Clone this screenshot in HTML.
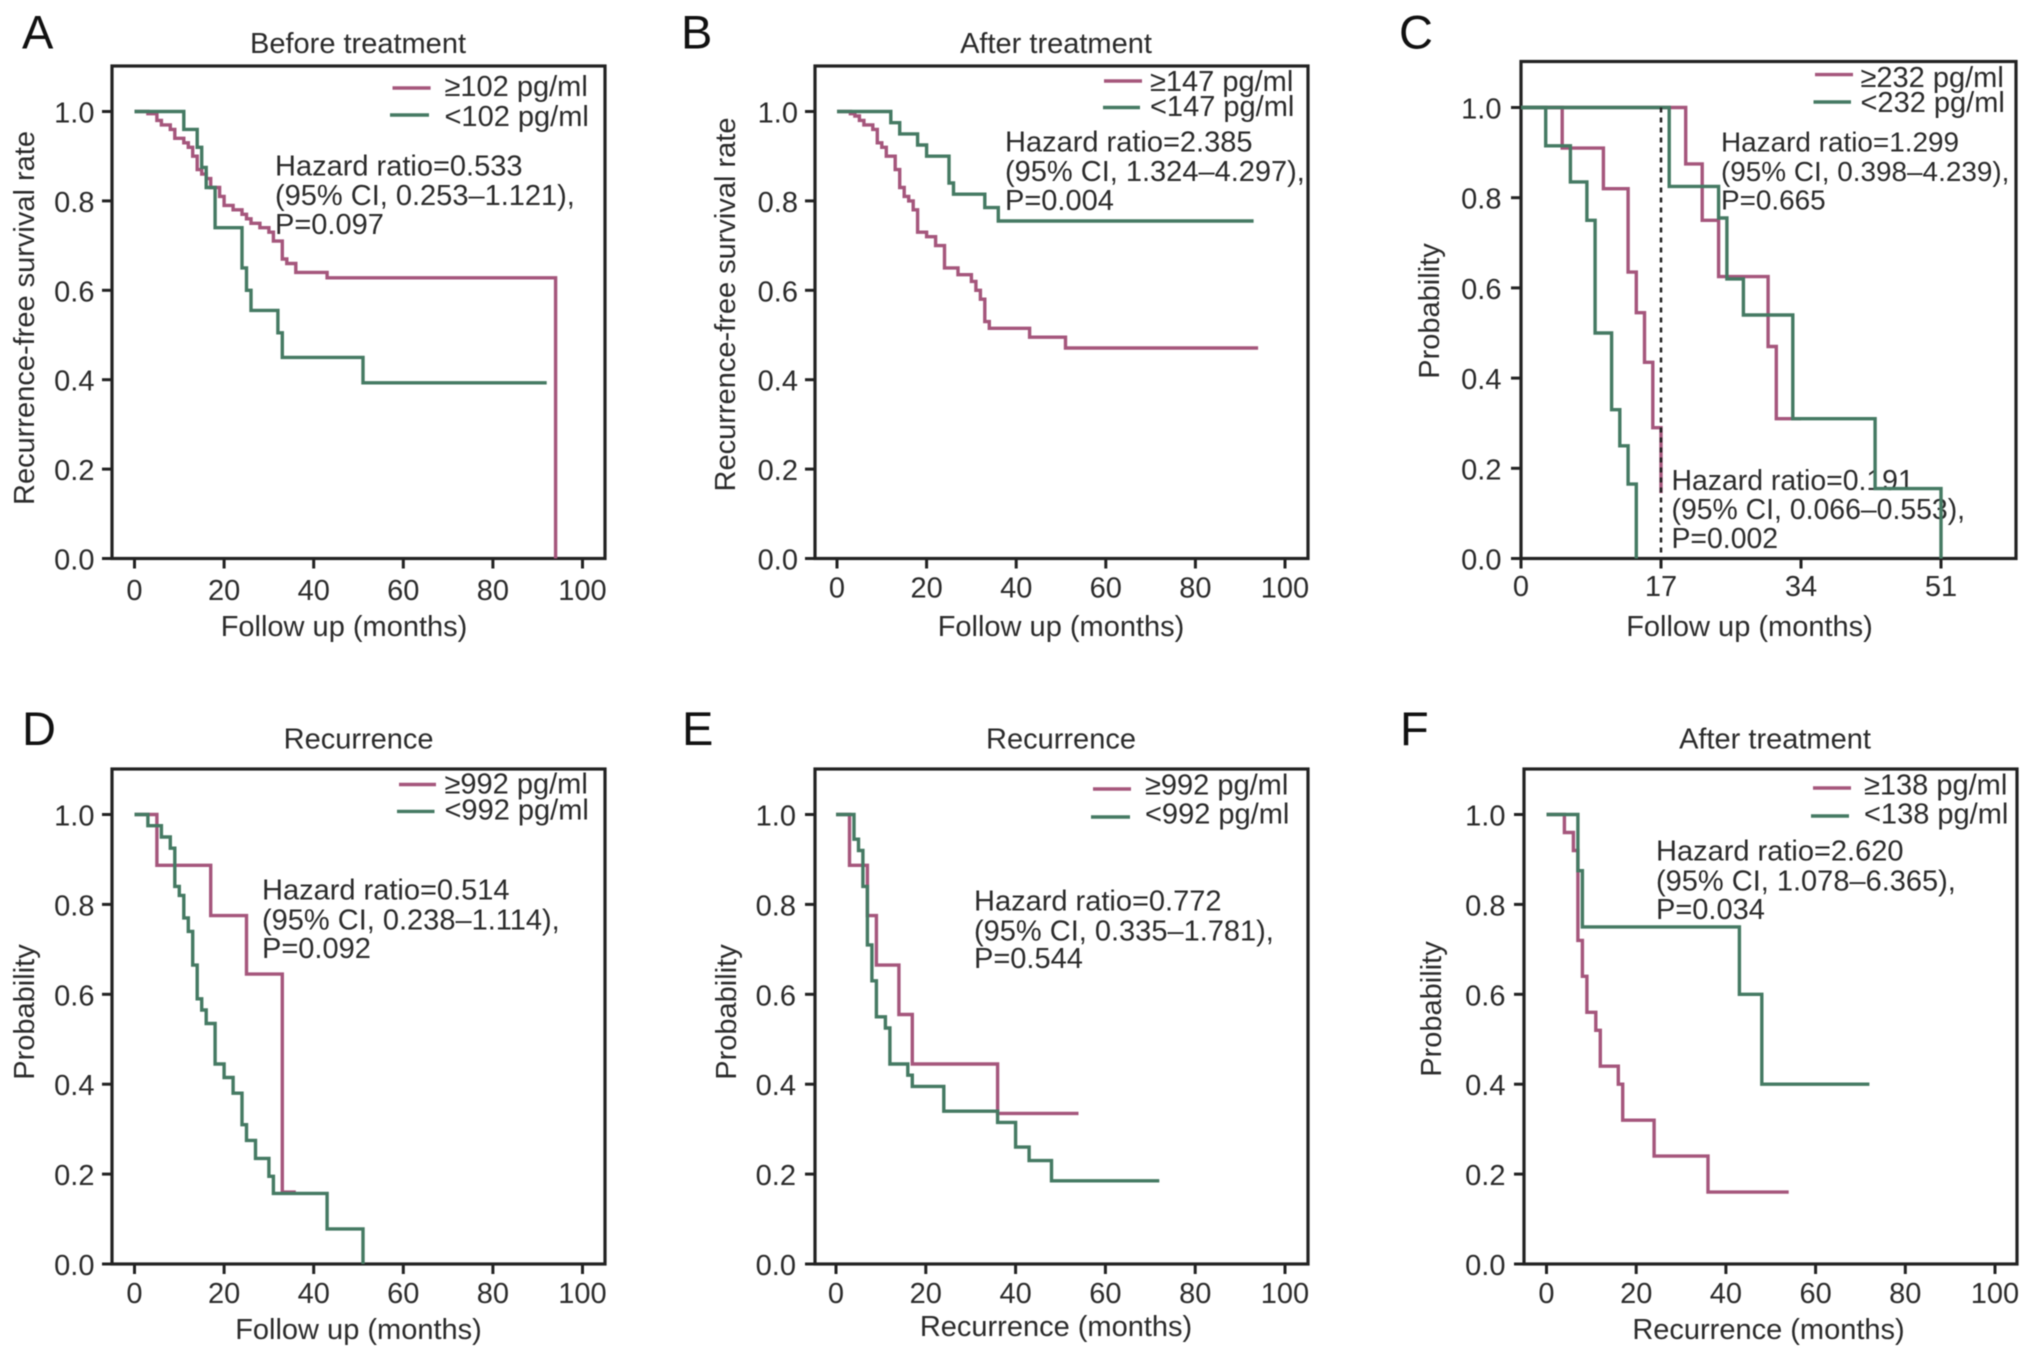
<!DOCTYPE html>
<html lang="en">
<head>
<meta charset="utf-8">
<title>Kaplan-Meier survival curves</title>
<style>
html,body{margin:0;padding:0;background:#fff;width:2032px;height:1357px;overflow:hidden}
svg{display:block;filter:blur(.6px)}
text{font-family:"Liberation Sans",Arial,sans-serif;font-size:29px;fill:#2b2b2b}
.letter{font-size:47px;fill:#111}
.title{text-anchor:middle}
.xlab{text-anchor:middle}
.ylab{text-anchor:middle}
.tick-y{text-anchor:end}
.tick-x{text-anchor:middle}
.frame{fill:none;stroke:#222;stroke-width:3.2}
.tick{stroke:#222;stroke-width:3}
.high{fill:none;stroke:#a5567c;stroke-width:3.4}
.low{fill:none;stroke:#457a63;stroke-width:3.4}
</style>
</head>
<body>
<svg id="figure" xmlns="http://www.w3.org/2000/svg" width="2032" height="1357" viewBox="0 0 2032 1357">
  <rect width="2032" height="1357" fill="#fff"/>

  <g id="panel-a">
    <text class="letter" x="22" y="48.6">A</text>
    <text class="title" x="358" y="53">Before treatment</text>
    <line class="high" x1="392.5" x2="430.6" y1="88" y2="88"/>
    <line class="low" x1="390" x2="429" y1="115" y2="115"/>
    <text x="444.5" y="96">≥102 pg/ml</text>
    <text x="444.5" y="125.8">&lt;102 pg/ml</text>
    <text x="275" y="175.6">Hazard ratio=0.533</text>
    <text x="275" y="205">(95% CI, 0.253–1.121),</text>
    <text x="275" y="234">P=0.097</text>
    <text class="xlab" x="344" y="636">Follow up (months)</text>
    <text class="ylab" transform="translate(33.8 318) rotate(-90)">Recurrence-free survival rate</text>
  </g>

  <g id="panel-b">
    <text class="letter" x="681" y="48.6">B</text>
    <text class="title" x="1056" y="53">After treatment</text>
    <line class="high" x1="1104" x2="1142" y1="81" y2="81"/>
    <line class="low" x1="1103" x2="1140" y1="107.5" y2="107.5"/>
    <text x="1150" y="91">≥147 pg/ml</text>
    <text x="1150" y="116">&lt;147 pg/ml</text>
    <text x="1005" y="151.5">Hazard ratio=2.385</text>
    <text x="1005" y="181">(95% CI, 1.324–4.297),</text>
    <text x="1005" y="210">P=0.004</text>
    <text class="xlab" x="1061" y="636">Follow up (months)</text>
    <text class="ylab" transform="translate(735 304.5) rotate(-90)">Recurrence-free survival rate</text>
  </g>

  <g id="panel-c">
    <text class="letter" x="1399" y="48.6">C</text>
    <line class="high" x1="1815" x2="1853" y1="74.6" y2="74.6"/>
    <line class="low" x1="1813.5" x2="1851" y1="102" y2="102"/>
    <text x="1860.5" y="87">≥232 pg/ml</text>
    <text x="1860.5" y="112">&lt;232 pg/ml</text>
    <text x="1721" y="151.5" style="font-size:27.9px">Hazard ratio=1.299</text>
    <text x="1721" y="181" style="font-size:27.9px">(95% CI, 0.398–4.239),</text>
    <text x="1721" y="209.5" style="font-size:27.9px">P=0.665</text>
    <text x="1671.5" y="490" style="font-size:28.4px">Hazard ratio=0.191</text>
    <text x="1671.5" y="519" style="font-size:28.4px">(95% CI, 0.066–0.553),</text>
    <text x="1671.5" y="548" style="font-size:28.4px">P=0.002</text>
    <text class="xlab" x="1749.5" y="636">Follow up (months)</text>
    <text class="ylab" transform="translate(1439 311) rotate(-90)">Probability</text>
  </g>

  <g id="panel-d">
    <text class="letter" x="22" y="745">D</text>
    <text class="title" x="358.6" y="748.5">Recurrence</text>
    <line class="high" x1="399" x2="436" y1="784.5" y2="784.5"/>
    <line class="low" x1="397" x2="434.5" y1="811.4" y2="811.4"/>
    <text x="444.5" y="793.6">≥992 pg/ml</text>
    <text x="444.5" y="819.6">&lt;992 pg/ml</text>
    <text x="262" y="899.5">Hazard ratio=0.514</text>
    <text x="262" y="929.5">(95% CI, 0.238–1.114),</text>
    <text x="262" y="958">P=0.092</text>
    <text class="xlab" x="358.5" y="1339">Follow up (months)</text>
    <text class="ylab" transform="translate(33.8 1012) rotate(-90)">Probability</text>
  </g>

  <g id="panel-e">
    <text class="letter" x="682" y="745">E</text>
    <text class="title" x="1061" y="748.5">Recurrence</text>
    <line class="high" x1="1093" x2="1131" y1="789" y2="789"/>
    <line class="low" x1="1091" x2="1130" y1="817" y2="817"/>
    <text x="1145" y="794.5">≥992 pg/ml</text>
    <text x="1145" y="823.5">&lt;992 pg/ml</text>
    <text x="974" y="910.5">Hazard ratio=0.772</text>
    <text x="974" y="940.5">(95% CI, 0.335–1.781),</text>
    <text x="974" y="968">P=0.544</text>
    <text class="xlab" x="1056" y="1336">Recurrence (months)</text>
    <text class="ylab" transform="translate(736 1012) rotate(-90)">Probability</text>
  </g>

  <g id="panel-f">
    <text class="letter" x="1400" y="745">F</text>
    <text class="title" x="1775" y="748.5">After treatment</text>
    <line class="high" x1="1813" x2="1851" y1="788" y2="788"/>
    <line class="low" x1="1811" x2="1849" y1="816" y2="816"/>
    <text x="1864" y="794.5">≥138 pg/ml</text>
    <text x="1864" y="823.5">&lt;138 pg/ml</text>
    <text x="1656" y="860.5">Hazard ratio=2.620</text>
    <text x="1656" y="890.5">(95% CI, 1.078–6.365),</text>
    <text x="1656" y="919">P=0.034</text>
    <text class="xlab" x="1768.5" y="1339">Recurrence (months)</text>
    <text class="ylab" transform="translate(1441 1009) rotate(-90)">Probability</text>
  </g>
</svg>

<script>
// Axis tick values
const probabilityTicks = [0, 0.2, 0.4, 0.6, 0.8, 1.0];
const monthTicks = [0, 20, 40, 60, 80, 100];
const panelCMonthTicks = [0, 17, 34, 51];

// Panel A
const aHighMonths = [0, 3, 5, 6, 8, 9, 11, 12, 13, 14, 15, 16, 17, 19, 20, 22, 24, 25, 26, 28, 30, 31, 33, 34, 36, 43, 94, 94];
const aHighSurvival = [1, 0.995, 0.98, 0.97, 0.96, 0.94, 0.93, 0.92, 0.9, 0.87, 0.86, 0.85, 0.83, 0.81, 0.79, 0.78, 0.77, 0.76, 0.75, 0.74, 0.73, 0.71, 0.67, 0.66, 0.64, 0.628, 0, 0];
const aLowMonths = [0, 11, 14, 15, 16, 18, 24, 25, 26, 32, 33, 51, 92];
const aLowSurvival = [1, 0.96, 0.92, 0.875, 0.83, 0.74, 0.65, 0.6, 0.555, 0.505, 0.45, 0.393, 0.393];

// Panel B
const bHighMonths = [0, 3, 4, 5, 6, 8, 9, 10, 11, 13, 14, 15, 16, 17, 18, 20, 22, 24, 27, 30, 31, 32, 33, 34, 43, 51, 94];
const bHighSurvival = [1, 0.995, 0.99, 0.98, 0.97, 0.96, 0.93, 0.92, 0.9, 0.87, 0.83, 0.81, 0.8, 0.78, 0.73, 0.72, 0.7, 0.65, 0.635, 0.62, 0.6, 0.58, 0.53, 0.515, 0.495, 0.471, 0.471];
const bLowMonths = [0, 12, 14, 18, 20, 25, 26, 33, 36, 93];
const bLowSurvival = [1, 0.975, 0.95, 0.925, 0.9, 0.84, 0.815, 0.785, 0.755, 0.755];

// Panel C (two pairs of curves split at 17 months)
const cEarlyHighMonths = [0, 5, 10, 13, 14, 15, 16, 17];
const cEarlyHighSurvival = [1, 0.91, 0.82, 0.635, 0.545, 0.435, 0.29, 0.145];
const cEarlyLowMonths = [0, 3, 6, 8, 9, 11, 12, 13, 14];
const cEarlyLowSurvival = [1, 0.915, 0.835, 0.75, 0.5, 0.33, 0.25, 0.165, 0];
const cLateHighMonths = [0, 20, 22, 24, 30, 31, 34];
const cLateHighSurvival = [1, 0.875, 0.75, 0.625, 0.47, 0.31, 0.31];
const cLateLowMonths = [0, 18, 24, 25, 27, 33, 43, 51];
const cLateLowSurvival = [1, 0.825, 0.755, 0.62, 0.54, 0.31, 0.155, 0];
const cLandmarkMonth = [17];

// Panel D
const dHighMonths = [0, 5, 17, 25, 33, 36];
const dHighSurvival = [1, 0.887, 0.775, 0.645, 0.16, 0.16];
const dLowMonths = [0, 3, 6, 8, 9, 10, 11, 12, 13, 14, 15, 16, 18, 20, 22, 24, 25, 27, 30, 31, 43, 51];
const dLowSurvival = [1, 0.975, 0.95, 0.925, 0.84, 0.82, 0.77, 0.74, 0.665, 0.59, 0.565, 0.535, 0.445, 0.415, 0.38, 0.31, 0.275, 0.235, 0.195, 0.157, 0.078, 0];

// Panel E
const eHighMonths = [0, 3, 7, 9, 14, 17, 36, 54];
const eHighSurvival = [1, 0.887, 0.775, 0.665, 0.555, 0.445, 0.335, 0.335];
const eLowMonths = [0, 4, 5, 6, 7, 8, 9, 11, 12, 16, 17, 24, 36, 40, 43, 48, 72];
const eLowSurvival = [1, 0.945, 0.92, 0.84, 0.71, 0.63, 0.55, 0.525, 0.445, 0.42, 0.395, 0.34, 0.315, 0.26, 0.23, 0.185, 0.185];

// Panel F
const fHighMonths = [0, 4, 6, 7, 8, 9, 11, 12, 16, 17, 24, 36, 54];
const fHighSurvival = [1, 0.96, 0.92, 0.72, 0.64, 0.56, 0.52, 0.44, 0.4, 0.32, 0.24, 0.16, 0.16];
const fLowMonths = [0, 7, 8, 43, 48, 72];
const fLowSurvival = [1, 0.875, 0.75, 0.6, 0.4, 0.4];

const SVG_NS = 'http://www.w3.org/2000/svg';

function linearScale(domainStart, domainEnd, rangeStart, rangeEnd) {
  return function (value) {
    return rangeStart + (value - domainStart) * (rangeEnd - rangeStart) / (domainEnd - domainStart);
  };
}

function stepPath(months, survival, xScale, yScale) {
  let d = 'M' + xScale(months[0]).toFixed(1) + ' ' + yScale(survival[0]).toFixed(1);
  for (let i = 1; i < months.length; i++) {
    d += 'H' + xScale(months[i]).toFixed(1) + 'V' + yScale(survival[i]).toFixed(1);
  }
  return d;
}

function drawCurve(group, panelKey, seriesKey, cssClass, months, survival, xScale, yScale) {
  const curve = document.createElementNS(SVG_NS, 'path');
  curve.setAttribute('class', cssClass);
  curve.setAttribute('d', stepPath(months, survival, xScale, yScale));
  
  
  group.appendChild(curve);
}

function drawAxes(group, panelKey, box, ticksX, xScale, yScale, tickTextX, tickTextY) {
  const frame = document.createElementNS(SVG_NS, 'rect');
  frame.setAttribute('class', 'frame');
  frame.setAttribute('x', box.left);
  frame.setAttribute('y', box.top);
  frame.setAttribute('width', box.right - box.left);
  frame.setAttribute('height', box.bottom - box.top);
  
  
  group.appendChild(frame);

  probabilityTicks.forEach(function (value) {
    const mark = document.createElementNS(SVG_NS, 'line');
    mark.setAttribute('class', 'tick');
    mark.setAttribute('x1', box.left - 10);
    mark.setAttribute('x2', box.left);
    mark.setAttribute('y1', yScale(value));
    mark.setAttribute('y2', yScale(value));
    
    
    group.appendChild(mark);

    const label = document.createElementNS(SVG_NS, 'text');
    label.setAttribute('class', 'tick-y');
    label.setAttribute('x', tickTextX);
    label.setAttribute('y', yScale(value) + 11);
    
    
    label.textContent = value.toFixed(1);
    group.appendChild(label);
  });

  ticksX.forEach(function (value) {
    const mark = document.createElementNS(SVG_NS, 'line');
    mark.setAttribute('class', 'tick');
    mark.setAttribute('x1', xScale(value));
    mark.setAttribute('x2', xScale(value));
    mark.setAttribute('y1', box.bottom);
    mark.setAttribute('y2', box.bottom + 10);
    
    
    group.appendChild(mark);

    const label = document.createElementNS(SVG_NS, 'text');
    label.setAttribute('class', 'tick-x');
    label.setAttribute('x', xScale(value));
    label.setAttribute('y', tickTextY);
    
    
    label.textContent = String(value);
    group.appendChild(label);
  });
}

// Panel A
(function () {
  const g = document.getElementById('panel-a');
  const x = linearScale(0, 100, 134.5, 582.5);
  const y = linearScale(0, 1, 558.5, 111.5);
  drawAxes(g, 'a', {left: 112, right: 605, top: 66, bottom: 558.5}, monthTicks, x, y, 94.5, 600);
  drawCurve(g, 'a', 'high', 'high', aHighMonths, aHighSurvival, x, y);
  drawCurve(g, 'a', 'low', 'low', aLowMonths, aLowSurvival, x, y);
})();

// Panel B
(function () {
  const g = document.getElementById('panel-b');
  const x = linearScale(0, 100, 837, 1285);
  const y = linearScale(0, 1, 558.5, 111.5);
  drawAxes(g, 'b', {left: 815, right: 1308, top: 66, bottom: 558.5}, monthTicks, x, y, 798, 597.6);
  drawCurve(g, 'b', 'high', 'high', bHighMonths, bHighSurvival, x, y);
  drawCurve(g, 'b', 'low', 'low', bLowMonths, bLowSurvival, x, y);
})();

// Panel C
(function () {
  const g = document.getElementById('panel-c');
  const x = linearScale(0, 51, 1521, 1941);
  const y = linearScale(0, 1, 558.5, 107.5);
  drawAxes(g, 'c', {left: 1521, right: 2016, top: 61.5, bottom: 558.5}, panelCMonthTicks, x, y, 1501.5, 596);
  drawCurve(g, 'c', 'early-high', 'high', cEarlyHighMonths, cEarlyHighSurvival, x, y);
  drawCurve(g, 'c', 'late-high', 'high', cLateHighMonths, cLateHighSurvival, x, y);
  drawCurve(g, 'c', 'early-low', 'low', cEarlyLowMonths, cEarlyLowSurvival, x, y);
  drawCurve(g, 'c', 'late-low', 'low', cLateLowMonths, cLateLowSurvival, x, y);

  const landmark = document.createElementNS(SVG_NS, 'line');
  landmark.setAttribute('x1', x(cLandmarkMonth[0]));
  landmark.setAttribute('x2', x(cLandmarkMonth[0]));
  landmark.setAttribute('y1', y(1));
  landmark.setAttribute('y2', y(0));
  landmark.setAttribute('stroke', '#222');
  landmark.setAttribute('stroke-width', '2.5');
  landmark.setAttribute('stroke-dasharray', '5 5');
  
  
  g.appendChild(landmark);
})();

// Panel D
(function () {
  const g = document.getElementById('panel-d');
  const x = linearScale(0, 100, 134.5, 582.5);
  const y = linearScale(0, 1, 1264, 814.5);
  drawAxes(g, 'd', {left: 112, right: 605, top: 769, bottom: 1264}, monthTicks, x, y, 94.5, 1303);
  drawCurve(g, 'd', 'high', 'high', dHighMonths, dHighSurvival, x, y);
  drawCurve(g, 'd', 'low', 'low', dLowMonths, dLowSurvival, x, y);
})();

// Panel E
(function () {
  const g = document.getElementById('panel-e');
  const x = linearScale(0, 100, 836, 1285);
  const y = linearScale(0, 1, 1264, 814.5);
  drawAxes(g, 'e', {left: 815, right: 1308, top: 769, bottom: 1264}, monthTicks, x, y, 796, 1303);
  drawCurve(g, 'e', 'high', 'high', eHighMonths, eHighSurvival, x, y);
  drawCurve(g, 'e', 'low', 'low', eLowMonths, eLowSurvival, x, y);
})();

// Panel F
(function () {
  const g = document.getElementById('panel-f');
  const x = linearScale(0, 100, 1546.5, 1995);
  const y = linearScale(0, 1, 1264, 814.5);
  drawAxes(g, 'f', {left: 1524, right: 2017, top: 769, bottom: 1264}, monthTicks, x, y, 1505.5, 1303);
  drawCurve(g, 'f', 'high', 'high', fHighMonths, fHighSurvival, x, y);
  drawCurve(g, 'f', 'low', 'low', fLowMonths, fLowSurvival, x, y);
})();
</script>
</body>
</html>
